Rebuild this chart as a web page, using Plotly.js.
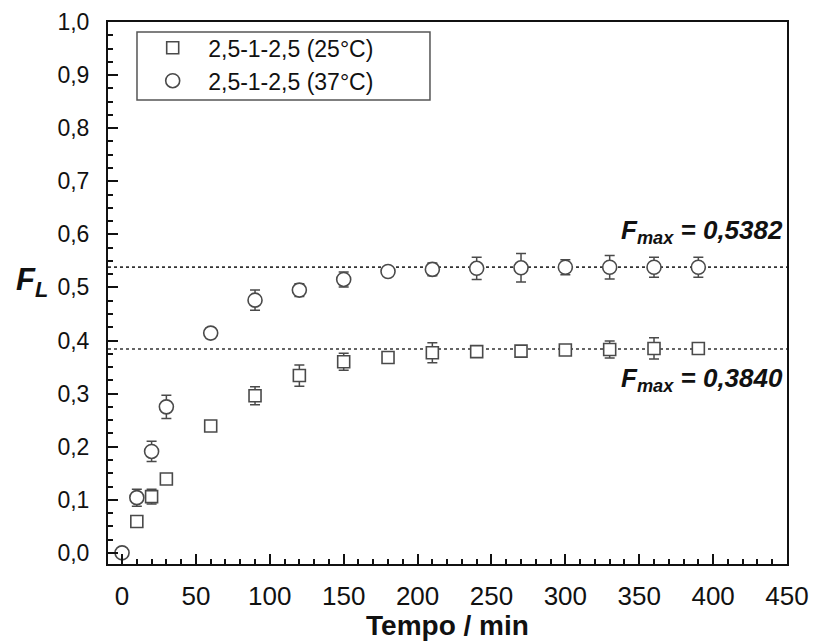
<!DOCTYPE html>
<html>
<head>
<meta charset="utf-8">
<script src="https://cdn.plot.ly/plotly-3.0.1.min.js"></script>
<style>html,body{margin:0;padding:0;background:#fff;}</style>
</head>
<body>
<div id="chart" style="width:813px;height:641px;"></div>
<script>
// Data
const time25 = [10, 20, 30, 60, 90, 120, 150, 180, 210, 240, 270, 300, 330, 360, 390];
const f25    = [0.059, 0.106, 0.139, 0.239, 0.296, 0.334, 0.360, 0.368, 0.377, 0.379, 0.380, 0.382, 0.383, 0.385, 0.385];
const err25  = [0.004, 0.014, 0.004, 0.004, 0.017, 0.020, 0.016, 0.004, 0.019, 0.006, 0.004, 0.004, 0.016, 0.020, 0.004];

const time37 = [0, 10, 20, 30, 60, 90, 120, 150, 180, 210, 240, 270, 300, 330, 360, 390];
const f37    = [0.000, 0.104, 0.191, 0.275, 0.414, 0.476, 0.495, 0.515, 0.530, 0.534, 0.536, 0.537, 0.538, 0.538, 0.538, 0.538];
const err37  = [0.004, 0.016, 0.019, 0.022, 0.010, 0.019, 0.012, 0.014, 0.005, 0.012, 0.021, 0.027, 0.014, 0.022, 0.019, 0.019];

const seriesNames = ["2,5-1-2,5 (25°C)", "2,5-1-2,5 (37°C)"];
const fmaxValues = [0.5382, 0.3840];
const fmaxLabels = ["0,5382", "0,3840"];

const FONT = "Liberation Sans, Arial, sans-serif";
const MC = "#4a4a4a";

const traces = [
  {
    x: time25, y: f25, name: seriesNames[0], type: "scatter", mode: "markers",
    marker: {symbol: "square", size: 12, color: "#fff", line: {width: 1.6, color: MC}},
    error_y: {type: "data", array: err25, visible: true, color: MC, thickness: 1.5, width: 5}
  },
  {
    x: time37, y: f37, name: seriesNames[1], type: "scatter", mode: "markers",
    marker: {symbol: "circle", size: 14, color: "#fff", line: {width: 1.6, color: MC}},
    error_y: {type: "data", array: err37, visible: true, color: MC, thickness: 1.5, width: 5}
  }
];

const shapes = fmaxValues.map(v => ({
  type: "line", xref: "paper", x0: 0, x1: 1, yref: "y", y0: v, y1: v,
  line: {color: "#333", width: 1.6, dash: "dot"}, layer: "below"
}));
// legend frame
shapes.push({
  type: "rect", xref: "paper", yref: "paper", x0: 0.0427, x1: 0.4742, y0: 0.856, y1: 0.9815,
  line: {color: "#555", width: 1.5}, fillcolor: "rgba(0,0,0,0)", layer: "above"
});

const annotations = [
  {
    xref: "paper", x: 0.997, xanchor: "right", yref: "y", y: fmaxValues[0], yanchor: "bottom", yshift: 17,
    text: "<b><i>F<sub>max</sub> = " + fmaxLabels[0] + "</i></b>", showarrow: false,
    font: {family: FONT, size: 26, color: "#111"}
  },
  {
    xref: "paper", x: 0.997, xanchor: "right", yref: "y", y: fmaxValues[1], yanchor: "top", yshift: -12,
    text: "<b><i>F<sub>max</sub> = " + fmaxLabels[1] + "</i></b>", showarrow: false,
    font: {family: FONT, size: 26, color: "#111"}
  },
  {
    xref: "paper", x: -0.112, xanchor: "center", yref: "paper", y: 0.52, yanchor: "middle",
    text: "<b><i>F<sub>L</sub></i></b>", showarrow: false,
    font: {family: FONT, size: 31, color: "#111"}
  }
];

const layout = {
  width: 813, height: 641,
  margin: {l: 108, r: 26, t: 22, b: 77},
  paper_bgcolor: "#fff", plot_bgcolor: "#fff",
  separators: ",.",
  font: {family: FONT, color: "#111"},
  showlegend: true,
  legend: {
    x: 0.043, y: 0.992, xanchor: "left", yanchor: "top",
    borderwidth: 0, bgcolor: "rgba(0,0,0,0)",
    font: {family: FONT, size: 23, color: "#111"},
    itemwidth: 61,
    tracegroupgap: 0
  },
  xaxis: {
    range: [-9.5, 450], tick0: 0, dtick: 50,
    ticks: "inside", ticklen: 10, tickwidth: 2, tickcolor: "#111",
    minor: {dtick: 10, ticks: "inside", ticklen: 5, tickwidth: 2, tickcolor: "#111"},
    showline: true, linecolor: "#111", linewidth: 2, mirror: true,
    showgrid: false, zeroline: false,
    tickfont: {family: FONT, size: 26, color: "#111"},
    ticklabelstandoff: 8,
    title: {text: "<b>Tempo / min</b>", font: {family: FONT, size: 28, color: "#111"}, standoff: 6}
  },
  yaxis: {
    range: [-0.021, 1.0], tick0: 0, dtick: 0.1, tickformat: ".1f",
    ticks: "inside", ticklen: 10, tickwidth: 2, tickcolor: "#111",
    minor: {dtick: 0.025, ticks: "inside", ticklen: 5, tickwidth: 2, tickcolor: "#111"},
    showline: true, linecolor: "#111", linewidth: 2, mirror: true,
    showgrid: false, zeroline: false,
    tickfont: {family: FONT, size: 23, color: "#111"},
    ticklabelstandoff: 12
  },
  shapes: shapes,
  annotations: annotations
};

Plotly.newPlot("chart", traces, layout, {displayModeBar: false, staticPlot: true});
</script>
</body>
</html>
